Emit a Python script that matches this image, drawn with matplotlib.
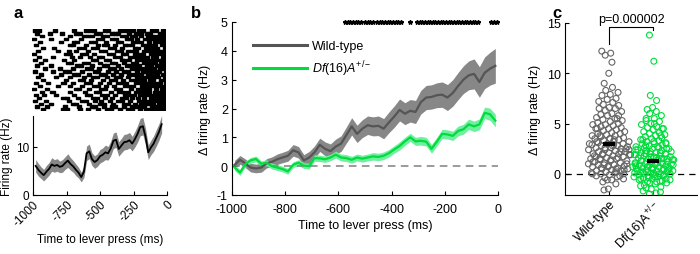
import numpy as np
import matplotlib
matplotlib.use("Agg")
from matplotlib import pyplot as plt
from matplotlib.lines import Line2D

plt.rcParams['font.family'] = ['Liberation Sans', 'DejaVu Sans']
plt.rcParams['font.size'] = 9
plt.rcParams['axes.unicode_minus'] = False
plt.rcParams['mathtext.fontset'] = 'custom'
plt.rcParams['mathtext.rm'] = 'Liberation Sans'
plt.rcParams['mathtext.it'] = 'Liberation Sans:italic'

# ---- panel a: raster (spike times in ms, one list per trial)
raster = [
    [-992, -960, -842, -700, -612, -580, -551, -470, -445, -360, -330, -302, -265, -214, -188, -120, -92, -40],
    [-975, -880, -790, -690, -660, -540, -505, -420, -398, -372, -290, -240, -200, -160, -135, -60, -32],
    [-940, -730, -630, -595, -568, -482, -452, -340, -312, -270, -245, -200, -150, -110, -78, -50, -15],
    [-998, -870, -760, -648, -520, -492, -415, -388, -305, -280, -228, -175, -150, -120, -96, -60, -25],
    [-955, -800, -705, -680, -575, -545, -460, -375, -350, -258, -232, -205, -140, -100, -62, -35, -8],
    [-985, -735, -710, -615, -520, -480, -455, -396, -320, -295, -268, -190, -160, -122, -98, -48, -15],
    [-930, -850, -665, -625, -560, -530, -430, -405, -342, -250, -222, -165, -140, -110, -85, -20],
    [-970, -820, -742, -690, -600, -498, -470, -380, -352, -296, -270, -238, -180, -140, -102, -70, -44, -10],
    [-1000, -760, -730, -640, -612, -550, -440, -412, -335, -310, -250, -212, -186, -130, -95, -58, -28],
    [-960, -860, -720, -655, -585, -518, -490, -398, -360, -282, -252, -225, -195, -160, -115, -88, -35],
    [-990, -915, -778, -700, -560, -535, -465, -438, -345, -318, -290, -230, -198, -172, -145, -108, -70, -42, -5],
    [-945, -750, -722, -625, -598, -508, -420, -392, -330, -262, -236, -182, -150, -120, -95, -52, -22],
    [-978, -872, -680, -652, -570, -480, -452, -370, -308, -282, -250, -215, -155, -128, -80, -48, -15],
    [-920, -808, -710, -605, -578, -515, -432, -406, -348, -268, -242, -208, -175, -140, -108, -60, -30],
    [-995, -860, -768, -740, -645, -548, -520, -445, -385, -325, -300, -228, -190, -162, -130, -95, -66, -12],
    [-950, -795, -700, -672, -590, -500, -472, -412, -352, -290, -265, -230, -198, -148, -118, -80, -40],
    [-970, -838, -735, -630, -560, -532, -455, -390, -362, -300, -232, -205, -170, -135, -105, -75, -25],
    [-930, -758, -660, -632, -572, -488, -425, -398, -338, -275, -250, -215, -182, -135, -110, -55, -20],
    [-988, -895, -780, -712, -612, -585, -510, -442, -370, -342, -312, -240, -205, -175, -148, -120, -85, -58, -18],
    [-958, -820, -728, -640, -550, -522, -462, -405, -318, -290, -262, -195, -160, -125, -95, -65, -32],
    [-1000, -905, -690, -662, -592, -500, -472, -385, -355, -278, -222, -196, -170, -140, -90, -45, -8],
    [-940, -862, -728, -618, -540, -512, -428, -362, -335, -300, -238, -205, -170, -142, -100, -72, -38],
    [-982, -925, -835, -700, -608, -580, -490, -458, -395, -320, -292, -255, -210, -180, -150, -118, -85, -55, -22],
    [-962, -780, -752, -672, -560, -532, -470, -415, -340, -312, -268, -225, -182, -130, -105, -82, -48, -15],
    [-995, -910, -740, -642, -615, -545, -502, -432, -370, -345, -285, -215, -188, -160, -130, -98, -62, -35, -15],
    [-948, -875, -712, -685, -590, -505, -478, -408, -328, -300, -248, -205, -175, -142, -112, -70, -35],
    [-975, -900, -770, -665, -570, -542, -480, -420, -392, -325, -270, -242, -210, -178, -120, -90, -50, -12],
    [-935, -780, -752, -655, -600, -525, -455, -428, -360, -298, -272, -210, -165, -135, -105, -75, -50, -28],
]

# ---- panel a: firing rate
rate_t = [-980, -960, -940, -920, -900, -880, -860, -840, -820, -800, -780, -760, -740, -720, -700, -680,
          -660, -640, -620, -600, -580, -560, -540, -520, -500, -480, -460, -440, -420, -400, -380, -360,
          -340, -320, -300, -280, -260, -240, -220, -200, -180, -160, -140, -120, -100, -80, -60, -40]
rate = [6.0, 5.2, 4.6, 4.1, 4.8, 5.4, 6.3, 6.0, 6.2, 5.8, 6.0, 6.6, 7.1, 6.4, 5.9, 5.2,
        4.6, 3.7, 4.8, 8.6, 9.0, 7.4, 6.8, 7.2, 8.0, 8.3, 8.8, 8.6, 9.6, 11.2, 11.4, 9.5,
        10.2, 10.9, 11.0, 11.3, 10.6, 11.5, 12.6, 14.0, 14.2, 12.0, 8.8, 9.8, 10.6, 11.8, 13.0, 14.6]
rate_sem = [1.3, 1.3, 1.2, 1.2, 1.3, 1.3, 1.4, 1.3, 1.3, 1.2, 1.3, 1.3, 1.4, 1.3, 1.2, 1.2,
            1.1, 1.0, 1.2, 1.5, 1.5, 1.3, 1.3, 1.3, 1.4, 1.4, 1.5, 1.4, 1.5, 1.6, 1.6, 1.5,
            1.5, 1.6, 1.6, 1.6, 1.5, 1.6, 1.7, 1.8, 1.8, 1.7, 1.5, 1.5, 1.6, 1.7, 1.7, 1.8]

# ---- panel b: delta firing rate
dt = [-990, -970, -950, -930, -910, -890, -870, -850, -830, -810, -790, -770, -750, -730, -710, -690,
      -670, -650, -630, -610, -590, -570, -550, -530, -510, -490, -470, -450, -430, -410, -390, -370,
      -350, -330, -310, -290, -270, -250, -230, -210, -190, -170, -150, -130, -110, -90, -70, -50, -30, -10]
wt = [0.05, 0.22, 0.10, -0.05, -0.08, -0.05, 0.10, 0.15, 0.24, 0.30, 0.36, 0.55, 0.48, 0.20, 0.30, 0.48,
      0.74, 0.60, 0.52, 0.68, 0.78, 1.08, 1.38, 1.12, 1.30, 1.42, 1.38, 1.40, 1.30, 1.52, 1.72, 1.95,
      1.82, 1.92, 1.88, 2.22, 2.38, 2.40, 2.46, 2.48, 2.38, 2.54, 2.78, 3.00, 3.15, 3.20, 2.92, 3.24, 3.38, 3.48]
wt_sem = [0.15, 0.15, 0.15, 0.15, 0.15, 0.16, 0.16, 0.17, 0.18, 0.18, 0.19, 0.2, 0.2, 0.2, 0.21, 0.22,
          0.23, 0.24, 0.25, 0.26, 0.27, 0.28, 0.3, 0.3, 0.31, 0.32, 0.33, 0.34, 0.35, 0.36, 0.37, 0.38,
          0.38, 0.39, 0.4, 0.41, 0.42, 0.42, 0.43, 0.44, 0.45, 0.46, 0.47, 0.48, 0.5, 0.52, 0.53, 0.55, 0.57, 0.6]
df = [-0.05, -0.22, 0.07, 0.20, 0.25, 0.08, 0.12, 0.00, -0.05, -0.10, -0.18, 0.05, 0.12, 0.02, 0.00, 0.28,
      0.27, 0.24, 0.30, 0.40, 0.30, 0.28, 0.22, 0.30, 0.26, 0.30, 0.34, 0.32, 0.36, 0.45, 0.58, 0.70,
      0.86, 1.00, 0.86, 0.88, 0.85, 0.60, 0.85, 1.12, 1.10, 1.05, 1.22, 1.28, 1.45, 1.38, 1.45, 1.85, 1.80, 1.58]
df_sem = [0.1, 0.1, 0.1, 0.1, 0.1, 0.1, 0.1, 0.1, 0.1, 0.1, 0.1, 0.1, 0.1, 0.1, 0.1, 0.11,
          0.11, 0.11, 0.11, 0.12, 0.12, 0.12, 0.12, 0.12, 0.12, 0.12, 0.13, 0.13, 0.13, 0.13, 0.13, 0.14,
          0.14, 0.14, 0.14, 0.15, 0.15, 0.15, 0.15, 0.16, 0.16, 0.16, 0.17, 0.17, 0.18, 0.18, 0.19, 0.2, 0.21, 0.22]
sig_t = [-575, -565, -555, -545, -535, -525, -515, -500, -490, -480, -470, -455, -445, -435, -425, -415,
         -405, -395, -385, -375, -365, -330, -305, -295, -285, -275, -265, -255, -245, -235, -225, -215,
         -205, -195, -185, -175, -165, -155, -145, -135, -125, -115, -105, -95, -85, -75, -25, -15, -5]

# ---- panel c: per-neuron delta firing rate
wt_vals = [12.2, 12.0, 11.8, 11.1, 10.0, 9.0, 8.6, 8.3, 8.1, 7.9, 7.8, 7.5, 7.4, 7.2, 7.1, 6.9, 6.8, 6.6,
           6.5, 6.5, 6.3, 6.2, 6.0, 5.9, 5.8, 5.8, 5.6, 5.5, 5.4, 5.3, 5.2, 5.1, 5.0, 4.9, 4.9, 4.8, 4.7,
           4.6, 4.5, 4.5, 4.4, 4.3, 4.2, 4.1, 4.0, 4.0, 3.9, 3.8, 3.8, 3.7, 3.6, 3.5, 3.5, 3.4, 3.3, 3.2,
           3.2, 3.1, 3.0, 3.0, 2.9, 2.8, 2.8, 2.7, 2.6, 2.6, 2.5, 2.4, 2.4, 2.3, 2.2, 2.2, 2.1, 2.0, 2.0,
           1.9, 1.9, 1.8, 1.7, 1.7, 1.6, 1.5, 1.5, 1.4, 1.3, 1.3, 1.2, 1.1, 1.1, 1.0, 0.9, 0.9, 0.8, 0.7,
           0.7, 0.6, 0.5, 0.5, 0.4, 0.3, 0.3, 0.2, 0.1, 0.1, 0.0, 0.0, -0.1, -0.2, -0.3, -0.4, -0.5, -0.6,
           -0.8, -1.0, -1.5, -1.6, 0.2, 0.6, 1.0, 1.4, 1.8, 2.2, 2.6, 3.0, 3.4, 3.8, 0.4, 0.8, 1.2, 1.6,
           2.0, 2.4, 2.8, 3.2, -0.2, -0.6, 0.0, 0.5, 1.5, 2.5, 3.5, 4.5, 5.5, 0.9, 1.9, 2.9]
df_vals = [13.8, 11.2, 7.8, 7.3, 6.6, 6.4, 6.2, 6.0, 5.8, 5.5, 5.3, 5.2, 5.0, 4.9, 4.7, 4.6, 4.5, 4.4,
           4.2, 4.1, 4.0, 3.9, 3.8, 3.7, 3.6, 3.5, 3.4, 3.3, 3.2, 3.1, 3.0, 3.0, 2.9, 2.8, 2.7, 2.7, 2.6,
           2.5, 2.5, 2.4, 2.3, 2.3, 2.2, 2.1, 2.1, 2.0, 2.0, 1.9, 1.8, 1.8, 1.7, 1.7, 1.6, 1.5, 1.5, 1.4,
           1.4, 1.3, 1.2, 1.2, 1.1, 1.1, 1.0, 1.0, 0.9, 0.9, 0.8, 0.8, 0.7, 0.7, 0.6, 0.6, 0.5, 0.5, 0.4,
           0.4, 0.3, 0.3, 0.2, 0.2, 0.1, 0.1, 0.0, 0.0, 0.0, -0.1, -0.1, -0.2, -0.2, -0.3, -0.3, -0.4,
           -0.5, -0.5, -0.6, -0.7, -0.8, -0.9, -1.0, -1.1, -1.3, -1.5, -1.7, -1.9, -2.0, -1.8,
           0.1, 0.3, 0.5, 0.7, 0.9, 1.1, 1.3, 1.5, 1.7, 1.9, 2.1, 2.3, 2.5, -0.3, -0.5, -0.7, -0.9, -1.2,
           0.0, 0.2, 0.4, 0.6, 0.8, 1.0, 1.2, 1.4, 1.6, 1.8, 2.0, 2.2, 2.4, 2.6, 2.8, 3.0, 3.2, 3.4,
           -0.1, -0.4, -0.6, -0.8, -1.4, 0.3, 0.5, 1.0, 1.5, 2.0, 4.5, 5.0, 5.5, 3.8]
group_means = [3.0, 1.3]
group_names = ['Wild-type', r'Df(16)A$^{+/-}$']
p_text = 'p=0.000002'

GRAY_LINE = '#555555'
GRAY_BAND = '#878787'
GREEN_LINE = '#00dc3c'
GREEN_BAND = '#6ff0a0'


def spread(vals, half):
    # beeswarm-like horizontal offsets: wider where points are dense
    v = np.asarray(vals)
    near = np.array([np.sum(np.abs(v - x) < 0.6) for x in v])
    w = half * np.sqrt(near / near.max())
    k = np.arange(len(v))
    return w * (2 * ((k * 0.618034) % 1) - 1)


def style(ax, size=9):
    ax.spines['top'].set_visible(False)
    ax.spines['right'].set_visible(False)
    ax.tick_params(direction='in', length=3, width=0.8, labelsize=size)
    ax.tick_params(axis='x', pad=6)
    ax.tick_params(axis='y', pad=3)
    for s in ['left', 'bottom']:
        ax.spines[s].set_linewidth(0.8)


fig = plt.figure(figsize=(7, 2.55), dpi=100)

# raster
ax_r = fig.add_axes([32/700, (255-112)/255, 134/700, 82/255])
for i, row in enumerate(raster):
    ax_r.broken_barh([(t, 30) for t in row], (i - 0.4, 0.8), color='black')
ax_r.set_xlim(-1000, 0)
ax_r.set_ylim(len(raster) - 0.5, -0.5)
ax_r.axis('off')

# firing rate trace
ax_a = fig.add_axes([33/700, 59/255, 134/700, 79/255])
r = np.array(rate)
rs = np.array(rate_sem)
ax_a.fill_between(rate_t, r - rs, r + rs, color=GRAY_BAND, lw=0)
ax_a.plot(rate_t, r, color='black', lw=1.3)
ax_a.set_xlim(-1000, 0)
ax_a.set_ylim(0, 16.3)
ax_a.set_yticks([0, 10])
ax_a.set_xticks([-1000, -750, -500, -250, 0])
style(ax_a, 8.5)
ax_a.tick_params(axis='x', pad=2)
plt.setp(ax_a.get_xticklabels(), rotation=45, ha='right', rotation_mode='anchor')
ax_a.set_ylabel('Firing rate (Hz)', fontsize=8.5, labelpad=2)
ax_a.set_xlabel('Time to lever press (ms)', fontsize=8.5, labelpad=4)

# panel b
ax_b = fig.add_axes([232/700, 59/255, 266/700, 173/255])
ax_b.axhline(0, color='#808080', lw=1.1, ls=(0, (5, 3.5)))
w = np.array(wt); ws = np.array(wt_sem)
d = np.array(df); ds = np.array(df_sem)
ax_b.fill_between(dt, w - ws, w + ws, color=GRAY_BAND, lw=0)
ax_b.plot(dt, w, color=GRAY_LINE, lw=1.6)
ax_b.fill_between(dt, d - ds, d + ds, color=GREEN_BAND, lw=0)
ax_b.plot(dt, d, color=GREEN_LINE, lw=1.6)
ax_b.plot(sig_t, [5] * len(sig_t), ls='none', marker='*', ms=3.2, color='black', clip_on=False)
ax_b.set_xlim(-1000, 0)
ax_b.set_ylim(-1, 5)
ax_b.set_xticks([-1000, -800, -600, -400, -200, 0])
ax_b.set_yticks([-1, 0, 1, 2, 3, 4, 5])
style(ax_b)
ax_b.set_ylabel(r'$\Delta$ firing rate (Hz)', fontsize=9, labelpad=3)
ax_b.set_xlabel('Time to lever press (ms)', fontsize=9, labelpad=3)
ax_b.legend(handles=[Line2D([], [], color=GRAY_LINE, lw=2.2), Line2D([], [], color=GREEN_LINE, lw=2.2)],
            labels=['Wild-type', r'$\it{Df(16)A}^{+/-}$'],
            loc='upper left', bbox_to_anchor=(0.055, 0.93), frameon=False, handlelength=4.3,
            handletextpad=0.45, labelspacing=0.45, fontsize=9, borderpad=0)

# panel c
ax_c = fig.add_axes([565/700, 59/255, 132/700, 172/255])
ax_c.axhline(0, color='black', lw=0.9, ls=(0, (5, 4)))
for k, (vals, col) in enumerate([(wt_vals, '#666666'), (df_vals, '#00dc3c')]):
    xs = k + 1 + spread(vals, 0.5)
    ax_c.scatter(xs, vals, s=18, facecolors='none', edgecolors=col, linewidths=0.8, zorder=2)
    ax_c.plot([k + 1 - 0.14, k + 1 + 0.14], [group_means[k]] * 2, color='black', lw=3, zorder=3,
              solid_capstyle='butt')
ax_c.plot([1, 1, 2, 2], [12.9, 14.6, 14.6, 14.3], color='black', lw=0.8, clip_on=False)
ax_c.text(1.5, 14.8, p_text, ha='center', va='bottom', fontsize=9)
ax_c.set_xlim(0, 3)
ax_c.set_ylim(-2.1, 15)
ax_c.set_yticks([0, 5, 10, 15])
ax_c.set_xticks([1, 2])
ax_c.set_xticklabels(group_names)
style(ax_c)
ax_c.tick_params(axis='x', pad=2)
plt.setp(ax_c.get_xticklabels(), rotation=45, ha='right', rotation_mode='anchor')
ax_c.set_ylabel(r'$\Delta$ firing rate (Hz)', fontsize=9, labelpad=3)

# panel letters
fig.text(18/700, 1 - 13/255, 'a', fontsize=12, fontweight='bold', ha='center', va='center')
fig.text(196/700, 1 - 13/255, 'b', fontsize=12, fontweight='bold', ha='center', va='center')
fig.text(557/700, 1 - 13/255, 'c', fontsize=12, fontweight='bold', ha='center', va='center')

fig.savefig('out.png', dpi=100)
